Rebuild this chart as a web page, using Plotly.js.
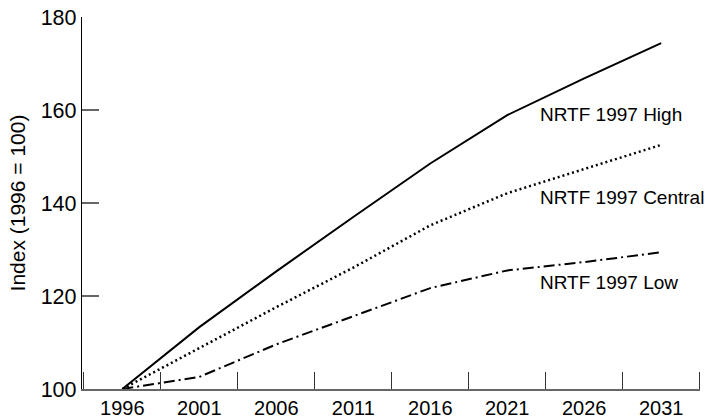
<!DOCTYPE html>
<html>
<head>
<meta charset="utf-8">
<script src="https://cdn.plot.ly/plotly-3.0.1.min.js"></script>
<style>html,body{margin:0;padding:0;background:#fff}#chart{width:707px;height:417px}</style>
</head>
<body>
<div id="chart"></div>
<script>
const years = [1996, 2001, 2006, 2011, 2016, 2021, 2026, 2031];
const highValues = [100, 113.3, 125.3, 137.0, 148.5, 158.9, 166.8, 174.4];
const centralValues = [100, 108.8, 117.6, 126.1, 135.2, 142.1, 147.3, 152.5];
const lowValues = [100, 102.6, 109.6, 115.7, 121.7, 125.5, 127.3, 129.4];
const tickLabels = ["1996", "2001", "2006", "2011", "2016", "2021", "2026", "2031"];
const yTickValues = [100, 120, 140, 160, 180];
const seriesNames = ["NRTF 1997 High", "NRTF 1997 Central", "NRTF 1997 Low"];
const labelY = [159.1, 141.1, 123.0];
const labelX = 2023.0;

const fam = "Liberation Sans, Arial, sans-serif";
const font = {family: fam, size: 19, color: "#000"};
const xTickFont = {family: fam, size: 20, color: "#000"};
const yTickFont = {family: fam, size: 21.5, color: "#000"};
const yTitleFont = {family: fam, size: 21, color: "#000"};

const traces = [
  {x: years, y: highValues, name: seriesNames[0], mode: "lines",
   line: {color: "#000", width: 2, dash: "solid"}},
  {x: years, y: centralValues, name: seriesNames[1], mode: "lines",
   line: {color: "#000", width: 2.5, dash: "2px,3px"}},
  {x: years, y: lowValues, name: seriesNames[2], mode: "lines",
   line: {color: "#000", width: 2, dash: "11px,4px,2px,4px"}}
];

const layout = {
  width: 707, height: 417,
  margin: {l: 82, r: 7, t: 17, b: 28, pad: 0},
  paper_bgcolor: "#fff", plot_bgcolor: "#fff",
  showlegend: false,
  font: font,
  xaxis: {
    range: [1993.38, 2033.52],
    tickvals: years, ticktext: tickLabels,
    ticks: "", showgrid: false, zeroline: false,
    showline: true, linecolor: "#666", linewidth: 1.5,
    tickfont: xTickFont,
    minor: {tick0: 1998.5, dtick: 5, ticks: "inside", ticklen: 17, tickcolor: "#333", tickwidth: 1.2, showgrid: false},
    automargin: false, fixedrange: true
  },
  yaxis: {
    range: [100, 180],
    tickvals: yTickValues,
    ticks: "inside", ticklen: 17, tickcolor: "#666", tickwidth: 1.5,
    showgrid: false, zeroline: false,
    showline: true, linecolor: "#000", linewidth: 1.2,
    tickfont: yTickFont,
    title: {text: "Index (1996 = 100)", font: yTitleFont, standoff: 9},
    automargin: false, fixedrange: true
  },
  annotations: seriesNames.map((n, i) => ({
    x: labelX, y: labelY[i], xref: "x", yref: "y", text: n,
    showarrow: false, xanchor: "left", yanchor: "middle", font: font
  }))
};

Plotly.newPlot("chart", traces, layout, {displayModeBar: false, staticPlot: true});
</script>
</body>
</html>
